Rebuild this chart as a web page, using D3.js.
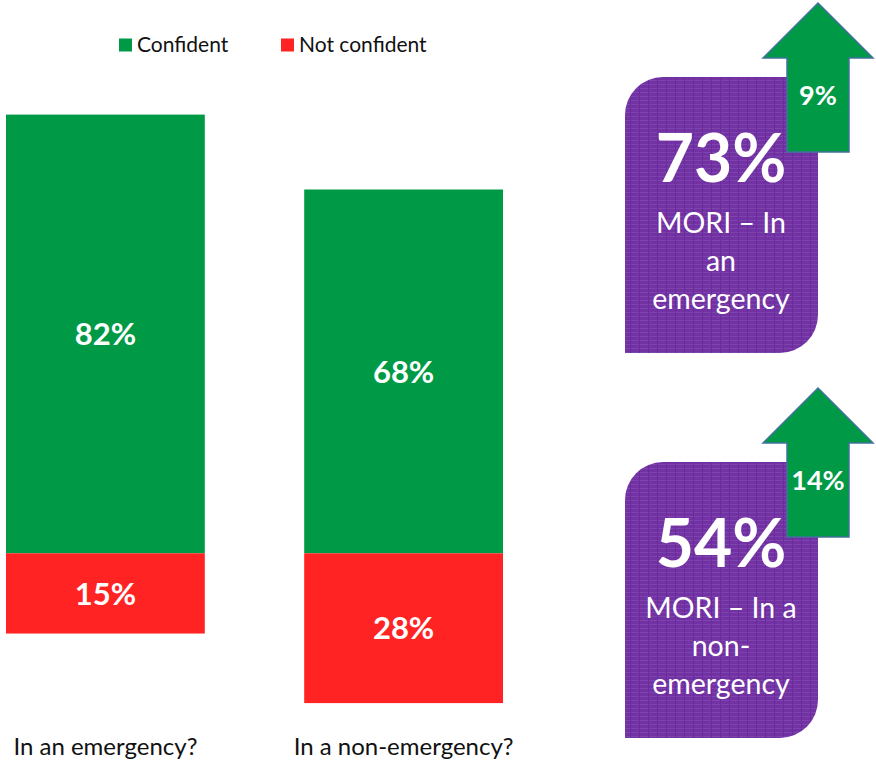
<!DOCTYPE html>
<html>
<head>
<meta charset="utf-8">
<script src="https://cdn.jsdelivr.net/npm/d3@7"></script>
<style>
  html, body { margin: 0; padding: 0; background: #fff; }
  svg { display: block; }
  text { font-family: Lato, "Noto Sans", sans-serif; }
</style>
</head>
<body>
<svg id="chart" width="876" height="763"></svg>
<script>
// ---- data ----
const categories = ["In an emergency?", "In a non-emergency?"];
const seriesNames = ["Confident", "Not confident"];
const confident = [82, 68];
const notConfident = [15, 28];
const moriValues = [73, 54];
const moriLabels = [["MORI \u2013 In", "an", "emergency"], ["MORI \u2013 In a", "non-", "emergency"]];
const changes = [9, 14];

// ---- styles ----
const GREEN = "#009A46";
const RED = "#FF2323";
const PURPLE = "#7232A4";

const svg = d3.select("#chart");

// scales
const x = d3.scaleBand().domain(categories).range([6, 503]).paddingInner(1/3).paddingOuter(0);
const zeroY = 553.3, k = 5.35;
const y = d3.scaleLinear().domain([-30, 85]).range([zeroY + 30 * k, zeroY - 85 * k]);

// bars
const g = svg.append("g");
g.selectAll("rect.conf").data(categories).join("rect")
  .attr("class", "conf")
  .attr("x", d => x(d)).attr("width", x.bandwidth())
  .attr("y", (d, i) => y(confident[i])).attr("height", (d, i) => y(0) - y(confident[i]))
  .attr("fill", GREEN);
g.selectAll("rect.notc").data(categories).join("rect")
  .attr("class", "notc")
  .attr("x", d => x(d)).attr("width", x.bandwidth())
  .attr("y", y(0)).attr("height", (d, i) => y(-notConfident[i]) - y(0))
  .attr("fill", RED);

// bar value labels
g.selectAll("text.cl").data(categories).join("text")
  .attr("x", d => x(d) + x.bandwidth() / 2)
  .attr("y", (d, i) => (y(confident[i]) + y(0)) / 2)
  .attr("dy", "0.36em")
  .attr("text-anchor", "middle").attr("fill", "#fff")
  .attr("font-weight", "bold").attr("font-size", 31)
  .text((d, i) => confident[i] + "%");
g.selectAll("text.nl").data(categories).join("text")
  .attr("x", d => x(d) + x.bandwidth() / 2)
  .attr("y", (d, i) => (y(-notConfident[i]) + y(0)) / 2)
  .attr("dy", "0.36em")
  .attr("text-anchor", "middle").attr("fill", "#fff")
  .attr("font-weight", "bold").attr("font-size", 31)
  .text((d, i) => notConfident[i] + "%");

// category labels
g.selectAll("text.cat").data(categories).join("text")
  .attr("x", d => x(d) + x.bandwidth() / 2)
  .attr("y", 755)
  .attr("text-anchor", "middle").attr("fill", "#111")
  .attr("font-size", 24)
  .text(d => d);

// legend
const legendX = [119, 281];
const legendColors = [GREEN, RED];
const lg = svg.append("g");
seriesNames.forEach((s, i) => {
  lg.append("rect").attr("x", legendX[i]).attr("y", 38.5).attr("width", 13).attr("height", 13).attr("fill", legendColors[i]);
  lg.append("text").attr("x", legendX[i] + 18).attr("y", 52).attr("font-size", 21).attr("fill", "#111").text(s);
});

// pattern for purple boxes
const defs = svg.append("defs");
const pat = defs.append("pattern").attr("id", "tex").attr("patternUnits", "userSpaceOnUse")
  .attr("width", 9).attr("height", 4);
pat.append("rect").attr("width", 9).attr("height", 4).attr("fill", PURPLE);
pat.append("rect").attr("y", 0).attr("width", 9).attr("height", 1).attr("fill", "#7d44ad");
pat.append("rect").attr("x", 0).attr("width", 1).attr("height", 4).attr("fill", "#6a2c9c");

// MORI panels
const panelTop = [77, 462];
moriValues.forEach((v, i) => {
  const t = panelTop[i];
  const x0 = 625, x1 = 818, h = 276, r = 38;
  const p = d3.path();
  p.moveTo(x0, t + r);
  p.arcTo(x0, t, x0 + r, t, r);
  p.lineTo(x1, t);
  p.lineTo(x1, t + h - r);
  p.arcTo(x1, t + h, x1 - r, t + h, r);
  p.lineTo(x0, t + h);
  p.closePath();
  svg.append("path").attr("d", p.toString()).attr("fill", "url(#tex)");

  // arrow
  const at = t - 74;
  const ap = d3.path();
  ap.moveTo(818, at);
  ap.lineTo(873, at + 55);
  ap.lineTo(849, at + 55);
  ap.lineTo(849, at + 149);
  ap.lineTo(787, at + 149);
  ap.lineTo(787, at + 55);
  ap.lineTo(763, at + 55);
  ap.closePath();
  svg.append("path").attr("d", ap.toString()).attr("fill", GREEN)
    .attr("stroke", "#41719C").attr("stroke-width", 1.5).attr("stroke-linejoin", "miter");
  svg.append("text").attr("x", 818).attr("y", at + 92).attr("dy", "0.36em")
    .attr("text-anchor", "middle").attr("fill", "#fff").attr("font-weight", "bold")
    .attr("font-size", 27).text(changes[i] + "%");

  // big number
  svg.append("text").attr("x", 721).attr("y", t + 105)
    .attr("text-anchor", "middle").attr("fill", "#fff").attr("font-weight", "bold")
    .attr("font-size", 66).text(v + "%");
  moriLabels[i].forEach((line, j) => {
    svg.append("text").attr("x", 721).attr("y", t + 156 + j * 38)
      .attr("text-anchor", "middle").attr("fill", "#fff")
      .attr("font-size", 28.5).text(line);
  });
});
</script>
</body>
</html>
